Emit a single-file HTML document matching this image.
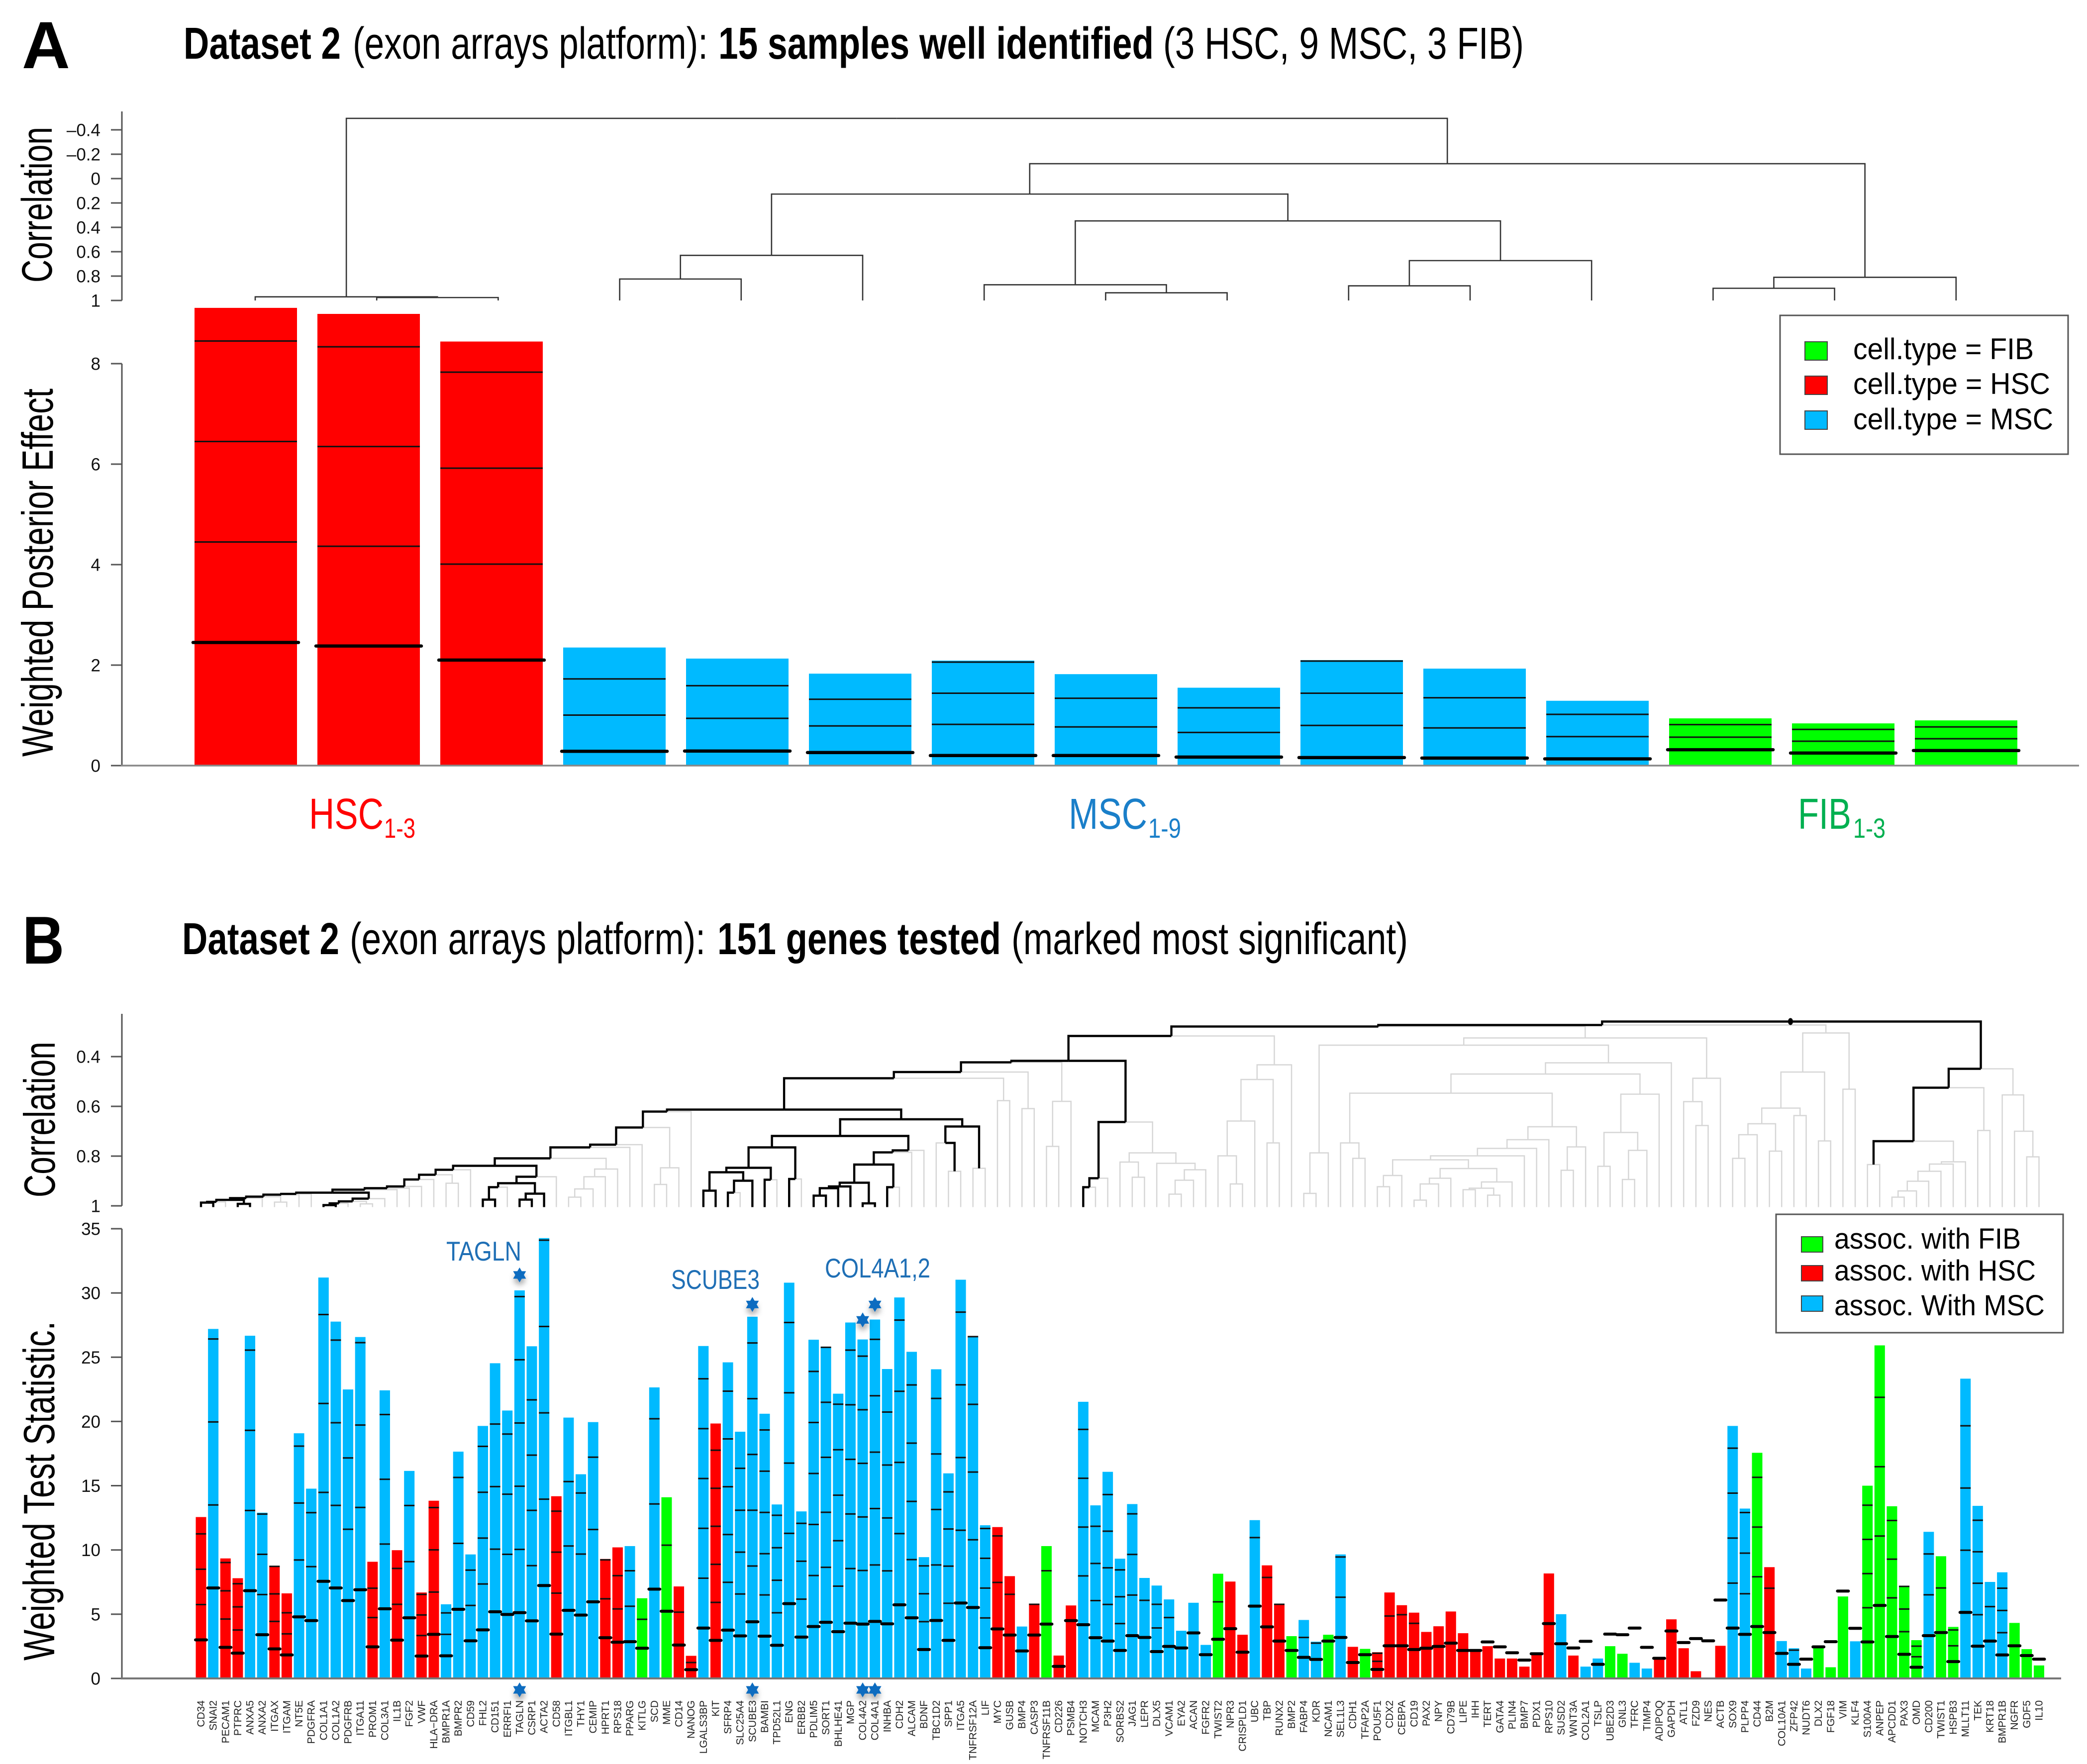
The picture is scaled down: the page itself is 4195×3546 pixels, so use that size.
<!DOCTYPE html>
<html lang="en">
<head>
<meta charset="utf-8">
<title>Dataset 2 exon arrays: samples and genes</title>
<style>
html,body{margin:0;padding:0;background:#fff;}
svg{display:block;}
text{font-family:"Liberation Sans",sans-serif;}
</style>
</head>
<body>
<svg id="figure" xmlns="http://www.w3.org/2000/svg" width="4195" height="3546" viewBox="0 0 4195 3546">
<defs>
<filter id="star-shadow" x="-60%" y="-60%" width="220%" height="260%">
<feDropShadow dx="0" dy="9" stdDeviation="5" flood-color="#000" flood-opacity="0.3"/>
</filter>
</defs>
<rect width="4195" height="3546" fill="#fff"/>

<text x="44" y="137" font-size="134" font-weight="bold">A</text>
<text x="369" y="118" font-size="90" font-weight="bold" textLength="316" lengthAdjust="spacingAndGlyphs">Dataset 2</text>
<text x="709" y="118" font-size="90" textLength="714" lengthAdjust="spacingAndGlyphs">(exon arrays platform):</text>
<text x="1444" y="118" font-size="90" font-weight="bold" textLength="875" lengthAdjust="spacingAndGlyphs">15 samples well identified</text>
<text x="2338" y="118" font-size="90" textLength="725" lengthAdjust="spacingAndGlyphs">(3 HSC, 9 MSC, 3 FIB)</text>

<text transform="translate(104,568) rotate(-90)" font-size="86" textLength="313" lengthAdjust="spacingAndGlyphs">Correlation</text>
<text transform="translate(106,1521) rotate(-90)" font-size="88" textLength="740" lengthAdjust="spacingAndGlyphs">Weighted Posterior Effect</text>

<g>
<text x="621" y="1666" font-size="87" fill="#ff0000" textLength="150" lengthAdjust="spacingAndGlyphs">HSC</text>
<text x="772" y="1684" font-size="56" fill="#ff0000" textLength="63" lengthAdjust="spacingAndGlyphs">1-3</text>
<text x="2148" y="1666" font-size="87" fill="#1a7fc9" textLength="158" lengthAdjust="spacingAndGlyphs">MSC</text>
<text x="2308" y="1684" font-size="56" fill="#1a7fc9" textLength="66" lengthAdjust="spacingAndGlyphs">1-9</text>
<text x="3614" y="1666" font-size="87" fill="#00b050" textLength="107" lengthAdjust="spacingAndGlyphs">FIB</text>
<text x="3725" y="1684" font-size="56" fill="#00b050" textLength="65" lengthAdjust="spacingAndGlyphs">1-3</text>
</g>

<g id="panel-a-dendrogram"></g>
<g id="panel-a-bars"></g>
<g id="panel-a-axes"></g>

<g>
<rect x="3578" y="634" width="579" height="279" fill="#fff" stroke="#555" stroke-width="3"/>
<rect x="3628" y="687" width="45" height="37" fill="#00ff00" stroke="#444" stroke-width="2"/>
<rect x="3628" y="756" width="45" height="37" fill="#ff0000" stroke="#444" stroke-width="2"/>
<rect x="3628" y="826" width="45" height="37" fill="#00baff" stroke="#444" stroke-width="2"/>
<text x="3725" y="722" font-size="60" textLength="363" lengthAdjust="spacingAndGlyphs">cell.type = FIB</text>
<text x="3725" y="792" font-size="60" textLength="396" lengthAdjust="spacingAndGlyphs">cell.type = HSC</text>
<text x="3725" y="863" font-size="60" textLength="402" lengthAdjust="spacingAndGlyphs">cell.type = MSC</text>
</g>

<text x="45" y="1937" font-size="136" font-weight="bold" textLength="84" lengthAdjust="spacingAndGlyphs">B</text>
<text x="366" y="1918" font-size="90" font-weight="bold" textLength="316" lengthAdjust="spacingAndGlyphs">Dataset 2</text>
<text x="703" y="1918" font-size="90" textLength="715" lengthAdjust="spacingAndGlyphs">(exon arrays platform):</text>
<text x="1442" y="1918" font-size="90" font-weight="bold" textLength="570" lengthAdjust="spacingAndGlyphs">151 genes tested</text>
<text x="2033" y="1918" font-size="90" textLength="797" lengthAdjust="spacingAndGlyphs">(marked most significant)</text>

<text transform="translate(110,2407) rotate(-90)" font-size="88" textLength="313" lengthAdjust="spacingAndGlyphs">Correlation</text>
<text transform="translate(109,3338) rotate(-90)" font-size="88" textLength="682" lengthAdjust="spacingAndGlyphs">Weighted Test Statistic.</text>

<g id="panel-b-dendrogram"></g>
<g id="panel-b-bars"></g>
<g id="panel-b-axes"></g>
<g id="panel-b-labels"></g>
<g id="panel-b-stars"></g>

<text x="897" y="2534" font-size="55" fill="#1f6fb5" textLength="151" lengthAdjust="spacingAndGlyphs">TAGLN</text>
<text x="1349" y="2591" font-size="55" fill="#1f6fb5" textLength="178" lengthAdjust="spacingAndGlyphs">SCUBE3</text>
<text x="1658" y="2568" font-size="55" fill="#1f6fb5" textLength="212" lengthAdjust="spacingAndGlyphs">COL4A1,2</text>

<g>
<rect x="3570" y="2441" width="577" height="238" fill="#fff" stroke="#555" stroke-width="3"/>
<rect x="3621" y="2486" width="43" height="31" fill="#00ff00" stroke="#444" stroke-width="2"/>
<rect x="3621" y="2544" width="43" height="31" fill="#ff0000" stroke="#444" stroke-width="2"/>
<rect x="3621" y="2605" width="43" height="31" fill="#00baff" stroke="#444" stroke-width="2"/>
<text x="3687" y="2510" font-size="58" textLength="375" lengthAdjust="spacingAndGlyphs">assoc. with FIB</text>
<text x="3687" y="2574" font-size="58" textLength="405" lengthAdjust="spacingAndGlyphs">assoc. with HSC</text>
<text x="3687" y="2644" font-size="58" textLength="423" lengthAdjust="spacingAndGlyphs">assoc. With MSC</text>
</g>
</svg>

<script>
// ---------- Panel A data ----------
const sampleNames = ['HSC1','HSC2','HSC3','MSC1','MSC2','MSC3','MSC4','MSC5','MSC6','MSC7','MSC8','MSC9','FIB1','FIB2','FIB3'];
const sampleTypes = ['H','H','H','M','M','M','M','M','M','M','M','M','F','F','F'];
const sampleEffect = [9.11,8.99,8.44,2.35,2.13,1.83,2.09,1.82,1.55,2.1,1.93,1.29,0.94,0.84,0.9];
const sampleBase = [2.45,2.38,2.10,0.285,0.29,0.26,0.2,0.2,0.17,0.16,0.15,0.134,0.316,0.25,0.3];
const sampleStep = [2.0,1.985,1.91,0.72,0.65,0.53,0.62,0.57,0.49,0.64,0.6,0.443,0.25,0.235,0.235];
const corrATicks = [-0.4,-0.2,0,0.2,0.4,0.6,0.8,1];
const corrATickLabels = ['\u20130.4','\u20130.2','0','0.2','0.4','0.6','0.8','1'];
const effectTicks = [0,2,4,6,8];
// tree nodes: [correlation, left, right]; numbers are leaf positions
const sampleTree = [-0.494,[0.97,0,[0.976,1,2]],[-0.122,[0.127,[0.63,[0.824,3,4],5],[0.347,[0.871,6,[0.937,7,8]],[0.673,[0.88,9,10],11]]],[0.81,[0.90,12,13],14]]];

// ---------- Panel B data ----------
const geneNames = ['CD34','SNAI2','PECAM1','PTPRC','ANXA5','ANXA2','ITGAX','ITGAM','NT5E','PDGFRA','COL1A1','COL1A2','PDGFRB','ITGA11','PROM1','COL3A1','IL1B','FGF2','VWF','HLA\u2212DRA','BMPR1A','BMPR2','CD59','FHL2','CD151','ERRFI1','TAGLN','CSRP1','ACTA2','CD58','ITGBL1','THY1','CEMIP','HPRT1','RPS18','PPARG','KITLG','SCD','MME','CD14','NANOG','LGALS3BP','KIT','SFRP4','SLC25A4','SCUBE3','BAMBI','TPD52L1','ENG','ERBB2','PDLIM5','SORT1','BHLHE41','MGP','COL4A2','COL4A1','INHBA','CDH2','ALCAM','BDNF','TBC1D2','SPP1','ITGA5','TNFRSF12A','LIF','MYC','GUSB','BMP4','CASP3','TNFRSF11B','CD226','PSMB4','NOTCH3','MCAM','P3H2','SORBS2','JAG1','LEPR','DLX5','VCAM1','EYA2','ACAN','FGFR2','TWIST2','NPR3','CRISPLD1','UBC','TBP','RUNX2','BMP2','FABP4','KDR','NCAM1','SEL1L3','CDH1','TFAP2A','POU5F1','CDX2','CEBPA','CD19','PAX2','NPY','CD79B','LIPE','IHH','TERT','GATA4','PLIN4','BMP7','PDX1','RPS10','SUSD2','WNT3A','COL2A1','TSLP','UBE2D3','GNL3','TFRC','TIMP4','ADIPOQ','GAPDH','ATL1','FZD9','NES','ACTB','SOX9','PLPP4','CD44','B2M','COL10A1','ZFP42','NUDT6','DLX2','FGF18','VIM','KLF4','S100A4','ANPEP','APCDD1','PAX3','OMD','CD200','TWIST1','HSPB3','MLLT11','TEK','KRT18','BMPR1B','NGFR','GDF5','IL10'];
const hscGenes = [0,2,3,6,7,14,16,18,19,29,33,34,39,40,42,65,66,68,70,71,84,85,87,88,94,96,97,98,99,100,101,102,103,104,105,106,107,108,109,110,112,119,120,121,122,124,128];
const fibGenes = [36,38,69,83,89,92,95,115,116,127,132,133,134,136,137,138,139,140,142,143,148,149,150];
const geneStat = [12.56,27.2,9.34,7.8,26.67,12.9,8.73,6.62,19.08,14.77,31.2,27.77,22.49,26.57,9.08,22.42,9.98,16.15,6.69,13.83,5.77,17.65,9.65,19.65,24.53,20.85,30.2,25.85,34.27,14.18,20.3,15.89,19.95,9.3,10.2,10.3,6.24,22.65,14.1,7.16,1.76,25.87,19.84,24.6,19.2,28.15,20.6,13.54,30.8,13.0,26.36,25.77,22.16,27.7,26.38,27.93,24.08,29.65,25.42,9.44,24.06,15.96,31.03,26.6,11.92,11.78,7.96,4.04,5.82,10.3,1.78,5.68,21.53,13.47,16.08,9.32,13.57,7.82,7.23,6.15,3.71,5.89,2.61,8.15,7.54,3.4,12.32,8.8,5.8,3.29,4.55,2.86,3.4,9.65,2.46,2.3,2.04,6.69,5.7,5.12,3.62,4.06,5.21,3.52,2.15,2.51,1.55,1.55,0.92,1.92,8.17,5.0,1.78,0.92,1.55,2.51,1.92,1.22,0.77,1.55,4.6,2.35,0.56,0,2.54,19.65,13.22,17.56,8.66,2.91,2.35,0.77,2.37,0.87,6.38,2.89,15,25.92,13.4,7.2,2.98,11.41,9.51,4.01,23.33,13.43,7.51,8.26,4.32,2.28,1.01];
const geneBase = [3.0,7.04,2.42,1.97,6.83,3.4,2.3,1.83,4.79,4.5,7.56,7.04,6.06,6.9,2.46,5.42,2.98,4.72,1.74,3.43,1.76,5.38,2.93,3.78,5.19,4.98,5.12,4.48,7.23,3.45,5.3,4.93,5.96,3.17,2.82,2.86,2.35,6.95,5.23,2.6,0.68,3.92,2.96,3.76,3.31,4.41,3.29,2.58,5.82,3.22,4.04,4.37,3.64,4.3,4.23,4.44,4.25,5.73,4.72,2.25,4.51,2.96,5.87,5.52,2.39,3.85,3.38,2.14,3.38,4.23,0.94,4.5,4.18,3.17,2.91,2.18,3.33,3.19,2.09,2.49,2.37,3.54,1.85,3.05,3.87,2.04,5.63,4.01,2.91,2.18,1.64,1.48,2.91,3.19,1.24,1.85,0.7,2.54,2.54,2.25,2.35,2.49,2.75,2.18,2.18,2.84,2.46,2.0,1.43,1.92,4.27,2.7,2.37,2.89,1.1,3.45,3.4,3.92,2.42,1.57,3.69,2.79,3.1,2.93,6.1,3.92,3.43,4.04,3.57,1.95,1.1,1.5,2.46,2.86,6.8,3.9,2.84,5.68,3.26,1.88,0.87,3.33,3.57,1.31,5.14,2.51,2.91,1.83,2.54,1.78,1.5];
const geneStep = [2.75,6.46,2.2,1.8,6.24,3.13,2.14,1.64,4.43,4.2,6.92,6.43,5.55,6.41,2.28,5.04,2.79,4.37,1.6,3.29,1.67,5.13,2.75,3.57,4.87,4.68,4.92,4.3,6.72,3.19,5.01,4.75,5.63,3.03,2.59,2.76,2.25,6.63,5.14,2.56,0.56,3.88,2.96,3.72,3.26,4.34,3.21,2.53,5.47,2.95,3.97,4.28,3.54,4.25,4.17,4.39,4.12,5.54,4.53,2.17,4.32,2.89,5.66,5.27,2.32,3.62,3.17,0,2.39,4.15,0,0,3.8,2.89,2.85,2.09,3.16,2.89,1.84,2.25,0,0,0,2.91,0,0,5.33,3.85,2.86,0,1.55,1.27,0,3.13,0,0,0.63,2.32,2.42,2.04,0,0,0,0,0,0,0,0,0,0,0,0,0,0,0,0,0,0,0,0,0,0,0,0,0,3.5,3.16,3.87,3.45,0,1.1,0,0,0,0,0,2.66,5.4,3.01,1.76,0.82,3.18,3.47,1.23,4.84,2.45,2.68,1.73,0,0,0];
const starGenes = [26,45,54,55];
const starValues = [31.4,29.1,27.9,29.1];
const statTicks = [0,5,10,15,20,25,30,35];
const corrBTicks = [0.4,0.6,0.8,1];
const blackLeaves = [0,1,3,4,10,11,23,24,26,27,28,41,42,43,45,46,48,50,51,52,53,54,55,56,72];

// gene dendrogram nodes: [correlation, left, right, highlighted]
const stairA = [0.976,[0.984,[0.987,0,1,1],2,1],[0.992,3,4,1],1];
const stairB = [0.952,[0.955,[0.963,[0.969,stairA,5,1],[0.985,6,7,0],1],8,1],9,1];
const lateralA = [0.971,[0.982,[0.990,[0.997,10,11,1],12,1],[0.992,13,14,0],1],15,1];
const stairC = [0.855,[0.875,[0.894,[0.922,[0.929,[0.935,[0.947,stairB,lateralA,1],16,1],17,1],18,1],19,1],[0.909,20,21,0],1],22,1];
const lateralB = [0.883,[0.909,[0.925,[0.975,23,24,1],25,1],[0.951,[0.975,26,27,1],28,1],1],29,1];
const lateralC = [0.852,[0.883,[0.932,[0.965,30,31,0],32,0],33,0],34,0];
const stairD = [0.621,[0.685,[0.754,[0.765,[0.809,[0.839,stairC,lateralB,1],lateralC,1],35,1],36,1],[0.847,[0.914,37,38,0],39,0],1],40,1];
const branchE = [0.765,[0.847,[0.865,[0.939,41,42,1],[0.899,[0.947,43,44,1],45,1],1],[0.895,46,47,1],1],[0.892,48,49,1],1];
const branchF = [0.777,[0.785,[0.834,[0.907,[0.922,[0.929,[0.959,50,51,1],52,1],53,1],[0.990,54,55,1],1],[0.925,56,57,1],1],58,1],59,1];
const branchG = [0.681,[0.747,60,[0.861,61,62,1],1],[0.849,63,64,1],1];
const nodeN1 = [0.613,stairD,[0.652,[0.719,branchE,branchF,1],branchG,1],1];
const nodeN4 = [0.423,[0.462,[0.487,nodeN1,[0.577,65,66,0],1],[0.609,67,68,0],1],[0.580,[0.761,69,70,0],71,0],1];
const branchH = [0.663,[0.889,[0.925,72,73,1],74,1],[0.787,[0.824,75,[0.885,76,77,0],0],[0.829,78,[0.855,[0.897,[0.953,79,80,0],81,0],82,0],0],0],1];
const branchI = [0.433,[0.492,[0.659,[0.799,83,[0.912,84,85,0],0],86,0],[0.747,87,88,0],0],89,0];
const nodeN6 = [0.317,[0.417,nodeN4,branchH,1],branchI,1];
const greyA = [0.787,[0.950,90,91,0],92,0];
const greyB = [0.747,93,[0.809,94,95,0],0];
const greyC = [0.878,[0.923,96,97,0],98,0];
const greyD = [0.889,[0.912,[0.977,99,100,0],101,0],102,0];
const greyE = [0.904,[0.929,[0.935,103,104,0],[0.957,105,106,0],0],107,0];
const greyF = [0.734,[0.769,[0.799,[0.815,greyC,[0.850,greyD,greyE,0],0],108,0],109,0],110,0];
const greyG = [0.763,[0.857,111,112,0],113,0];
const greyH = [0.551,[0.705,[0.841,114,115,0],[0.777,[0.894,116,117,0],118,0],0],119,0];
const greyI = [0.425,[0.470,[0.547,greyB,[0.682,greyF,greyG,0],0],greyH,0],120,0];
const greyJ = [0.487,[0.581,121,[0.677,122,123,0],0],124,0];
const greyK = [0.325,[0.354,greyA,greyI,0],greyJ,0];
const greyL = [0.462,[0.607,[0.670,[0.714,[0.809,125,126,0],127,0],[0.780,128,129,0],0],[0.637,130,131,0],0],[0.739,132,133,0],0];
const greyM = [0.305,greyL,[0.531,134,135,0],0];
const rightA = [0.823,[0.832,[0.861,[0.901,[0.940,[0.965,138,139,0],140,0],141,0],142,0],143,0],144,0];
const rightB = [0.740,[0.834,136,137,1],rightA,1];
const rightC = [0.554,147,[0.700,148,[0.803,149,150,0],0],0];
const rightD = [0.449,[0.525,rightB,[0.697,145,146,0],1],rightC,1];
const geneTree = [0.259,[0.273,[0.279,nodeN6,greyK,1],greyM,1],rightD,1];

// ---------- scales ----------
const NS = 'http://www.w3.org/2000/svg';
const typeColor = {H:'#ff0000', M:'#00baff', F:'#00ff00'};
function sampleX(i){ return 391 + i*247; }
function effectY(v){ return 1539 - v*101; }
function corrAY(c){ return 359 + c*245; }
function sampleLeafX(k){ return 513 + k*244.2; }
function geneX(i){ return 404 + i*24.63; }
function statY(v){ return 3374 - v*25.83; }
function corrBY(c){ return 2424 + (c-1)*500; }
function make(tag, parent, props){
  const el = document.createElementNS(NS, tag);
  for (const k in props) el.setAttribute(k, props[k]);
  parent.appendChild(el);
  return el;
}
function geneType(i){
  if (hscGenes.includes(i)) return 'H';
  if (fibGenes.includes(i)) return 'F';
  return 'M';
}

// ---------- panel A bars ----------
const barsA = document.getElementById('panel-a-bars');
sampleNames.forEach(function(name, i){
  const x = sampleX(i), w = 206;
  const bar = make('rect', barsA, {x:x, y:effectY(sampleEffect[i]), width:w, height:effectY(0)-effectY(sampleEffect[i]), fill:typeColor[sampleTypes[i]]});
  
  
  for (let k = 1; sampleBase[i] + k*sampleStep[i] <= sampleEffect[i] + 0.01; k++){
    const y = effectY(sampleBase[i] + k*sampleStep[i]);
    const thin = make('line', barsA, {x1:x, x2:x+w, y1:y, y2:y, stroke:'#111', 'stroke-width':3});
    
    
  }
  const by = effectY(sampleBase[i]);
  const thick = make('line', barsA, {x1:x-3, x2:x+w+3, y1:by, y2:by, stroke:'#000', 'stroke-width':6.5, 'stroke-linecap':'round'});
  
  
});

// ---------- dendrogram renderer ----------
function drawTree(tree, group, leafX, corrY, leafCorr, isBlackLeaf, greyColor, greyWidth, blackColor, blackWidth){
  const links = [];
  function walk(node){
    if (typeof node === 'number'){
      return {x:leafX(node), c:leafCorr, black:isBlackLeaf(node)};
    }
    const a = walk(node[1]), b = walk(node[2]);
    const x = (a.x + b.x)/2, c = node[0];
    links.push({from:a, px:x, pc:c});
    links.push({from:b, px:x, pc:c});
    return {x:x, c:c, black:node[3] === undefined ? true : !!node[3]};
  }
  walk(tree);
  const ordered = links.filter(function(l){return !l.from.black;}).concat(links.filter(function(l){return l.from.black;}));
  ordered.forEach(function(l){
    const d = 'M' + l.from.x + ' ' + corrY(l.from.c) + 'V' + corrY(l.pc) + 'H' + l.px;
    const p = make('path', group, {d:d, fill:'none', stroke:l.from.black ? blackColor : greyColor, 'stroke-width':l.from.black ? blackWidth : greyWidth});
    
    
  });
}
drawTree(sampleTree, document.getElementById('panel-a-dendrogram'), sampleLeafX, corrAY, 1, function(){return true;}, '#333', 2.6, '#333', 2.6);
drawTree(geneTree, document.getElementById('panel-b-dendrogram'), geneX, corrBY, 1.005, function(i){return blackLeaves.includes(i);}, '#d6d6d6', 2.5, '#000', 4.4);

const rootDot = make('ellipse', document.getElementById('panel-b-dendrogram'), {cx:3599, cy:corrBY(geneTree[0]), rx:5, ry:7, fill:'#000'});



// ---------- panel B bars ----------
const barsB = document.getElementById('panel-b-bars');
const labelsB = document.getElementById('panel-b-labels');
geneNames.forEach(function(name, i){
  const cx = geneX(i), w = 21;
  if (geneStat[i] > 0){
    const bar = make('rect', barsB, {x:cx-w/2, y:statY(geneStat[i]), width:w, height:statY(0)-statY(geneStat[i]), fill:typeColor[geneType(i)]});
    
    
  }
});
geneNames.forEach(function(name, i){
  const cx = geneX(i), w = 21;
  if (geneStep[i] > 0){
    for (let k = 1; geneBase[i] + k*geneStep[i] <= geneStat[i] + 0.02; k++){
      const y = statY(geneBase[i] + k*geneStep[i]);
      const thin = make('line', barsB, {x1:cx-w/2, x2:cx+w/2, y1:y, y2:y, stroke:'#111', 'stroke-width':3});
      
      
    }
  }
  const by = statY(geneBase[i]);
  const thick = make('line', barsB, {x1:cx-11, x2:cx+11, y1:by, y2:by, stroke:'#000', 'stroke-width':6, 'stroke-linecap':'round'});
  
  

  const label = make('text', labelsB, {transform:'translate(' + (cx+7) + ',3418) rotate(-90)', 'text-anchor':'end', 'font-size':21, fill:'#222'});
  
  
  label.textContent = name;
});

// ---------- stars ----------
function starPoints(cx, cy, r){
  const pts = [];
  for (let k = 0; k < 12; k++){
    const rr = k % 2 === 0 ? r : r*0.58;
    const a = -Math.PI/2 + k*Math.PI/6;
    pts.push((cx + rr*Math.cos(a)).toFixed(1) + ',' + (cy + rr*Math.sin(a)).toFixed(1));
  }
  return pts.join(' ');
}
const starsG = document.getElementById('panel-b-stars');
starGenes.forEach(function(g, i){
  const top = make('polygon', starsG, {points:starPoints(geneX(g), statY(starValues[i]), 15), fill:'#0a6cc0', filter:'url(#star-shadow)'});
  
  
  const bottom = make('polygon', starsG, {points:starPoints(geneX(g), 3397, 15), fill:'#0a6cc0', filter:'url(#star-shadow)'});
  
  
});

// ---------- axes ----------
function drawAxis(group, ticks, labels, yFn, name){
  const spineX = 245;
  const ys = ticks.map(yFn);
  const spineTop = Math.min.apply(null, ys), spineBottom = Math.max.apply(null, ys);
  const spine = make('line', group, {x1:spineX, x2:spineX, y1:spineTop, y2:spineBottom, stroke:'#555', 'stroke-width':3});
  
  
  ticks.forEach(function(t, i){
    const y = yFn(t);
    const tick = make('line', group, {x1:223, x2:spineX, y1:y, y2:y, stroke:'#555', 'stroke-width':3});
    
    
    const txt = make('text', group, {x:202, y:y+12.5, 'text-anchor':'end', 'font-size':35, fill:'#111'});
    
    
    txt.textContent = labels[i];
  });
}
const axesA = document.getElementById('panel-a-axes');
const axesB = document.getElementById('panel-b-axes');
drawAxis(axesA, corrATicks, corrATickLabels, corrAY, 'panel-a-correlation');
const spineExtA = make('line', axesA, {x1:245, x2:245, y1:224, y2:261, stroke:'#555', 'stroke-width':3});


drawAxis(axesA, effectTicks, effectTicks.map(String), effectY, 'panel-a-effect');
const baseA = make('line', axesA, {x1:243, x2:4179, y1:effectY(0), y2:effectY(0), stroke:'#888', 'stroke-width':3.5});



drawAxis(axesB, corrBTicks, corrBTicks.map(String), corrBY, 'panel-b-correlation');
const spineExtB = make('line', axesB, {x1:245, x2:245, y1:2038, y2:corrBY(0.4), stroke:'#555', 'stroke-width':3});


drawAxis(axesB, statTicks, statTicks.map(String), statY, 'panel-b-statistic');
const baseB = make('line', axesB, {x1:243, x2:4143, y1:statY(0), y2:statY(0), stroke:'#777', 'stroke-width':4});


</script>
</body>
</html>
